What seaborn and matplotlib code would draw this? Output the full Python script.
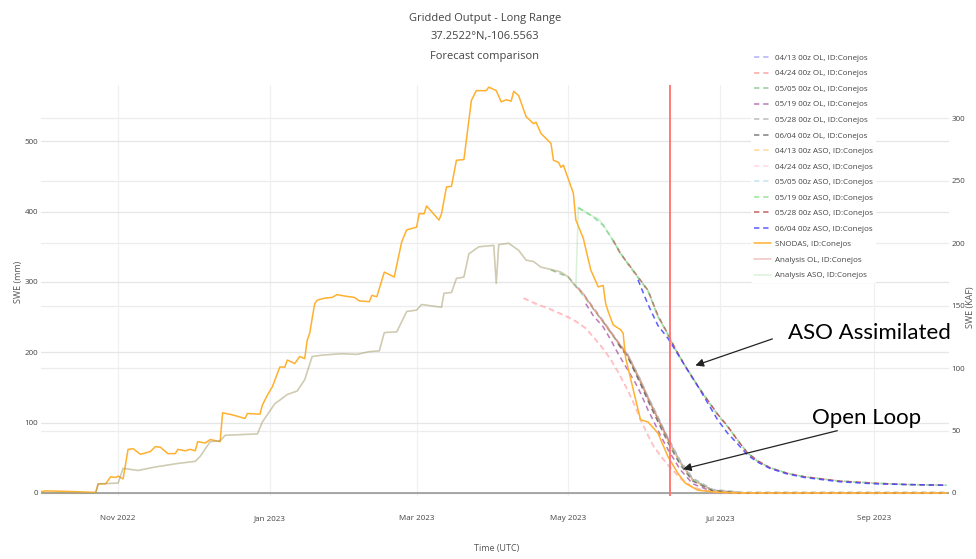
import numpy as np
import pandas as pd
import seaborn as sns
import matplotlib.pyplot as plt
import matplotlib.dates as mdates

# ##############################################################################
# values (SWE in mm)
# ##############################################################################

snodas_dates = ["2022-10-01", "2022-10-03", "2022-10-14", "2022-10-21", "2022-10-23", "2022-10-24",
                "2022-10-27", "2022-10-29", "2022-10-31", "2022-11-01", "2022-11-03", "2022-11-05",
                "2022-11-07", "2022-11-10", "2022-11-12", "2022-11-14", "2022-11-16", "2022-11-18",
                "2022-11-21", "2022-11-24", "2022-11-25", "2022-11-28", "2022-11-30", "2022-12-02",
                "2022-12-03", "2022-12-06", "2022-12-08", "2022-12-12", "2022-12-13", "2022-12-17",
                "2022-12-22", "2022-12-23", "2022-12-28", "2022-12-29", "2022-12-31", "2023-01-02",
                "2023-01-05", "2023-01-07", "2023-01-08", "2023-01-11", "2023-01-13", "2023-01-15",
                "2023-01-16", "2023-01-17", "2023-01-19", "2023-01-20", "2023-01-23", "2023-01-26",
                "2023-01-28", "2023-01-31", "2023-02-04", "2023-02-06", "2023-02-10", "2023-02-11",
                "2023-02-13", "2023-02-16", "2023-02-20", "2023-02-21", "2023-02-23", "2023-02-25",
                "2023-02-27", "2023-03-01", "2023-03-02", "2023-03-04", "2023-03-05", "2023-03-10",
                "2023-03-11", "2023-03-13", "2023-03-15", "2023-03-17", "2023-03-20", "2023-03-23",
                "2023-03-25", "2023-03-29", "2023-03-30", "2023-04-02", "2023-04-04", "2023-04-06",
                "2023-04-08", "2023-04-09", "2023-04-11", "2023-04-14", "2023-04-17", "2023-04-18",
                "2023-04-20", "2023-04-24", "2023-04-25", "2023-04-27", "2023-04-28", "2023-04-29",
                "2023-05-03", "2023-05-04", "2023-05-07", "2023-05-10", "2023-05-13", "2023-05-15",
                "2023-05-16", "2023-05-17", "2023-05-19", "2023-05-22", "2023-05-23", "2023-05-24",
                "2023-05-27", "2023-05-30", "2023-06-02", "2023-06-06", "2023-06-10", "2023-06-14",
                "2023-06-17", "2023-06-22", "2023-06-30", "2023-07-10", "2023-09-30"]
snodas_swe = [2, 3, 2, 1, 1, 13,
              13, 23, 22, 24, 20, 62,
              63, 55, 57, 59, 66, 65,
              56, 56, 62, 60, 62, 60,
              73, 71, 76, 73, 114, 111,
              106, 113, 112, 125, 139, 151,
              179, 179, 189, 184, 194, 191,
              217, 227, 269, 274, 277, 278,
              282, 280, 278, 273, 272, 281,
              279, 314, 307, 324, 357, 374,
              376, 378, 397, 397, 408, 388,
              397, 435, 436, 473, 474, 558,
              572, 572, 577, 572, 556, 559,
              557, 571, 565, 535, 525, 527,
              511, 497, 473, 470, 463, 466,
              426, 388, 362, 317, 293, 295,
              269, 258, 239, 232, 227, 192,
              148, 104, 101, 85, 52, 28,
              14, 4, 1, 0, 0]

# open loop analysis (the ASO analysis is identical until the 05/05 update)
analysis_dates = ["2022-10-01", "2022-10-23", "2022-10-24", "2022-11-01", "2022-11-03", "2022-11-09",
                  "2022-11-16", "2022-11-25", "2022-12-02", "2022-12-04", "2022-12-08", "2022-12-12",
                  "2022-12-14", "2022-12-27", "2022-12-29", "2023-01-03", "2023-01-05", "2023-01-08",
                  "2023-01-12", "2023-01-15", "2023-01-18", "2023-01-22", "2023-01-30", "2023-02-05",
                  "2023-02-10", "2023-02-14", "2023-02-16", "2023-02-21", "2023-02-25", "2023-03-01",
                  "2023-03-03", "2023-03-11", "2023-03-12", "2023-03-15", "2023-03-17", "2023-03-20",
                  "2023-03-22", "2023-03-26", "2023-04-01", "2023-04-02", "2023-04-03", "2023-04-07",
                  "2023-04-11", "2023-04-14", "2023-04-17", "2023-04-20", "2023-04-25", "2023-04-28",
                  "2023-05-01", "2023-05-04", "2023-05-07", "2023-05-11", "2023-05-18", "2023-05-25",
                  "2023-05-30", "2023-06-04", "2023-06-11"]
analysis_ol_swe = [0, 0, 13, 14, 35, 32,
                   37, 42, 45, 52, 73, 74,
                   82, 84, 101, 127, 132, 140,
                   145, 161, 194, 196, 198, 197,
                   201, 202, 228, 229, 258, 260,
                   268, 264, 284, 285, 305, 307,
                   340, 350, 352, 298, 353, 355,
                   345, 331, 329, 321, 317, 314,
                   307, 293, 284, 262, 228, 194,
                   157, 119, 70]

aso_update_dates = ["2023-05-05", "2023-05-11", "2023-05-13", "2023-05-15", "2023-05-19", "2023-05-22",
                    "2023-05-25", "2023-05-29", "2023-06-02", "2023-06-06", "2023-06-11"]
aso_update_swe = [406, 393, 390, 381, 359, 340,
                  326, 307, 288, 250, 220]

# forecasts, nan = not yet issued
lower_dates = ["2023-04-13", "2023-04-18", "2023-04-24", "2023-05-01", "2023-05-05", "2023-05-08",
               "2023-05-11", "2023-05-15", "2023-05-18", "2023-05-21", "2023-05-25", "2023-05-28",
               "2023-05-30", "2023-06-02", "2023-06-04", "2023-06-07", "2023-06-10", "2023-06-15",
               "2023-06-20", "2023-06-28", "2023-07-10", "2023-09-30"]
nan = np.nan
fc_0413_ol = [nan, nan, nan, nan, 292, 278, 264, 245, 230, 215, 196, 174, 160, 136, 121, 99, 77, 44, 19, 4, 0, 0]
fc_0424_ol = [277, 269, 261, 250, 242, 234, 222, 205, 190, 172, 145, 122, 104, 82, 68, 53, 40, 21, 8, 1, 0, 0]
fc_0505_ol = [nan, nan, 317, 307, 290, 276, 262, 243, 228, 213, 194, 172, 158, 134, 120, 98, 76, 43, 19, 4, 0, 0]
fc_0519_ol = [nan, nan, nan, nan, nan, 269, 252, 236, 218, 198, 174, 156, 142, 118, 104, 82, 62, 33, 13, 2, 0, 0]
fc_0528_ol = [nan, nan, nan, nan, nan, nan, nan, 244, 229, 214, 196, 175, 161, 137, 123, 101, 79, 46, 21, 5, 1, 1]
fc_0604_ol = [nan, nan, nan, nan, nan, nan, nan, nan, nan, 212, 192, 170, 155, 131, 116, 94, 72, 40, 17, 3, 0, 0]
fc_0413_aso = [nan, nan, nan, nan, 291, 277, 263, 244, 229, 214, 195, 173, 159, 135, 120, 98, 75, 42, 18, 3, 0, 0]
fc_0424_aso = [276, 268, 260, 249, 241, 233, 221, 204, 189, 171, 144, 121, 103, 81, 67, 52, 39, 20, 8, 1, 0, 0]

upper_dates = ["2023-05-05", "2023-05-11", "2023-05-15", "2023-05-19", "2023-05-22", "2023-05-25",
               "2023-05-29", "2023-06-02", "2023-06-06", "2023-06-10", "2023-06-13", "2023-06-17",
               "2023-06-22", "2023-06-26", "2023-06-30", "2023-07-04", "2023-07-08", "2023-07-12",
               "2023-07-16", "2023-07-21", "2023-07-28", "2023-08-04", "2023-08-18", "2023-09-01",
               "2023-09-14", "2023-09-30"]
fc_0505_aso = [406, 392, 380, 358, 340, 326, 307, 288, 251, 226, 205, 181, 153, 132, 112, 95, 76, 57, 46, 36, 28, 23, 17, 14, 12, 11]
fc_0519_aso = [405, 393, 381, 359, 341, 325, 306, 287, 251, 225, 204, 180, 152, 131, 111, 94, 75, 57, 45, 36, 28, 23, 17, 14, 12, 11]
fc_0528_aso = [nan, nan, nan, 359, 340, 326, 307, 288, 252, 226, 205, 180, 152, 132, 112, 95, 75, 57, 46, 36, 28, 23, 17, 14, 12, 11]
fc_0604_aso = [nan, nan, nan, nan, nan, nan, 303, 268, 238, 220, 203, 180, 152, 128, 104, 85, 70, 54, 44, 35, 27, 22, 16, 13, 12, 11]

today = "2023-06-11"
mm_to_kaf = 0.5632

# ##############################################################################
# plot
# ##############################################################################

sns.set_style("white")
plt.rcParams['font.family'] = ['Open Sans', 'DejaVu Sans']

def series(dates, vals):
    s = pd.Series(vals, index=pd.to_datetime(dates), dtype=float)
    return s.dropna()

fig = plt.figure(figsize=(9.76, 5.59), dpi=100)
ax = fig.add_axes([41 / 976, 1 - 495.8 / 559, 908 / 976, 410.8 / 559])
ax2 = ax.twinx()
ax.set_zorder(ax2.get_zorder() + 1)
ax.patch.set_visible(False)

forecasts = [
    ("04/13 00z OL, ID:Conejos", lower_dates, fc_0413_ol, "#6f6fff", 0.55),
    ("04/24 00z OL, ID:Conejos", lower_dates, fc_0424_ol, "#ff6b6b", 0.6),
    ("05/05 00z OL, ID:Conejos", lower_dates, fc_0505_ol, "#4d9f4d", 0.55),
    ("05/19 00z OL, ID:Conejos", lower_dates, fc_0519_ol, "#a64ca6", 0.75),
    ("05/28 00z OL, ID:Conejos", lower_dates, fc_0528_ol, "#b4b4b4", 0.9),
    ("06/04 00z OL, ID:Conejos", lower_dates, fc_0604_ol, "#4a4a4a", 0.7),
    ("04/13 00z ASO, ID:Conejos", lower_dates, fc_0413_aso, "#ffbf50", 0.6),
    ("04/24 00z ASO, ID:Conejos", lower_dates, fc_0424_aso, "#ffd0d8", 0.8),
    ("05/05 00z ASO, ID:Conejos", upper_dates, fc_0505_aso, "#bfe0ee", 0.9),
    ("05/19 00z ASO, ID:Conejos", upper_dates, fc_0519_aso, "#8fe08f", 0.9),
    ("05/28 00z ASO, ID:Conejos", upper_dates, fc_0528_aso, "#c04f4f", 0.9),
    ("06/04 00z ASO, ID:Conejos", upper_dates, fc_0604_aso, "#4b4bff", 0.9),
]

for label, d, v, c, a in forecasts:
    s = series(d, v)
    sns.lineplot(x=s.index, y=s.values, ax=ax, color=c, alpha=a, lw=1.1,
                 linestyle=(0, (3.5, 2.5)), label=label)

snodas = series(snodas_dates, snodas_swe)
sns.lineplot(x=snodas.index, y=snodas.values, ax=ax, color="#ffb02e", lw=1.1,
             label="SNODAS, ID:Conejos")

ana_ol = series(analysis_dates, analysis_ol_swe)
ana_aso = pd.concat([ana_ol[ana_ol.index < "2023-05-05"], series(aso_update_dates, aso_update_swe)])
sns.lineplot(x=ana_ol.index, y=ana_ol.values, ax=ax, color="#cc3b3b", alpha=0.3, lw=1.1,
             label="Analysis OL, ID:Conejos")
sns.lineplot(x=ana_aso.index, y=ana_aso.values, ax=ax, color="#8fdc8f", alpha=0.35, lw=1.1,
             label="Analysis ASO, ID:Conejos")

ax.axvline(pd.Timestamp(today), color="#ff6f6f", lw=1.3, zorder=5)
ax.axhline(0, color="#9a9a9a", lw=1.2, zorder=1)

# axes
ax.set_xlim(pd.Timestamp("2022-10-01"), pd.Timestamp("2023-10-01"))
ax.set_ylim(-4, 580)
ax2.set_ylim(-4 * mm_to_kaf, 580 * mm_to_kaf)
ax.set_yticks([0, 100, 200, 300, 400, 500])
ax2.set_yticks([0, 50, 100, 150, 200, 250, 300])
ax.xaxis.set_major_locator(mdates.MonthLocator(bymonth=[1, 3, 5, 7, 9, 11]))
ax.xaxis.set_major_formatter(mdates.DateFormatter('%b %Y'))

ax.set_axisbelow(True)
ax.grid(axis='y', color='#e6e6e6', lw=0.9)
ax.grid(axis='x', color='#f0f0f0', lw=0.9)
ax2.grid(axis='y', color='#ececec', lw=0.9)
for a_ in (ax, ax2):
    for sp in a_.spines.values():
        sp.set_visible(False)
ax.tick_params(axis='y', length=0, pad=2, labelsize=5.8, labelcolor='#444444')
ax.tick_params(axis='x', length=0, pad=14, labelsize=5.8, labelcolor='#444444')
ax2.tick_params(axis='y', length=0, pad=2, labelsize=5.8, labelcolor='#444444')
ax.set_xlabel("")
ax.set_ylabel("")

fig.text(18 / 976, 1 - 282 / 559, "SWE (mm)", rotation=90, ha='center', va='center', fontsize=6.5, color='#555555')
fig.text(970 / 976, 1 - 307 / 559, "SWE (KAF)", rotation=90, ha='center', va='center', fontsize=6.5, color='#555555')
fig.text(497 / 976, 1 - 548 / 559, "Time (UTC)", ha='center', va='center', fontsize=6.5, color='#555555')

for txt, y in [("Gridded Output - Long Range", 18), ("37.2522°N,-106.5563", 37), ("Forecast comparison", 56)]:
    fig.text(485 / 976, 1 - y / 559, txt, ha='center', va='center', fontsize=8, color='#444444')

ax.legend(loc='upper left', bbox_to_anchor=(751 / 976, 1 - 51 / 559), bbox_transform=fig.transFigure,
          fontsize=5.8, frameon=True, facecolor='white', edgecolor='none', framealpha=1,
          handlelength=2.1, handletextpad=0.5, labelspacing=0.98, borderpad=0.4, borderaxespad=0,
          labelcolor='#444444')

# annotations pasted on top of the screenshot
fig.text(869 / 976, 1 - 333 / 559, "ASO Assimilated", ha='center', va='center', fontsize=16,
         family='Lato', color='black')
fig.text(867 / 976, 1 - 418 / 559, "Open Loop", ha='center', va='center', fontsize=16,
         family='Lato', color='black')
ax.annotate("", xy=(pd.Timestamp("2023-06-20"), 180), xycoords='data',
            xytext=(775 / 976, 1 - 338 / 559), textcoords='figure fraction',
            arrowprops=dict(arrowstyle='-|>', color='#222222', lw=0.9, mutation_scale=12))
ax.annotate("", xy=(pd.Timestamp("2023-06-15"), 33), xycoords='data',
            xytext=(840 / 976, 1 - 430 / 559), textcoords='figure fraction',
            arrowprops=dict(arrowstyle='-|>', color='#222222', lw=0.9, mutation_scale=12))

plt.savefig("out.png", dpi=100)
plt.close()
